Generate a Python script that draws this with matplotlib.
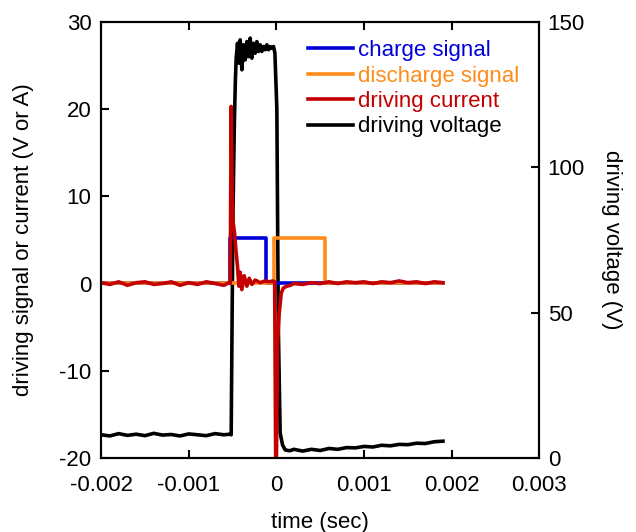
import matplotlib.pyplot as plt

plt.rcParams['font.family'] = ['Liberation Sans', 'DejaVu Sans']
plt.rcParams['font.size'] = 16
plt.rcParams['axes.unicode_minus'] = False

# charge / discharge signals (V)
t_charge = [-0.002, -0.000527, -0.000527, -0.00012, -0.00012, 0.0019]
v_charge = [0.1, 0.1, 5.2, 5.2, 0.1, 0.1]
t_dis = [-0.002, -0.000022, -0.000022, 0.00055, 0.00055, 0.0019]
v_dis = [0.05, 0.05, 5.2, 5.2, 0.05, 0.05]

# driving current (A)
t_cur = [-0.002, -0.0019, -0.0018, -0.0017, -0.0016, -0.0015, -0.0014, -0.0013,
         -0.0012, -0.0011, -0.001, -0.0009, -0.0008, -0.0007, -0.0006, -0.00054,
         -0.000527, -0.000516, -0.000505, -0.000497, -0.000478, -0.000459, -0.000444,
         -0.000428, -0.000413, -0.000394, -0.000368, -0.000337, -0.00031, -0.00028,
         -0.000242, -0.000185, -0.00013, -0.00008, -0.00004, -0.00002, -0.000005,
         0.000013, 0.000032, 0.000055, 0.00008, 0.00012, 0.00016, 0.0002, 0.0003,
         0.0004, 0.0005, 0.0006, 0.0007, 0.0008, 0.0009, 0.001, 0.0011, 0.0012,
         0.0013, 0.0014, 0.0015, 0.0016, 0.0017, 0.0018, 0.0019]
v_cur = [0.1, -0.1, 0.2, -0.2, 0.1, 0.2, -0.1, 0.0,
         0.2, -0.2, 0.1, -0.1, 0.2, 0.0, -0.2, 0.1,
         0.0, 20.3, 10.4, 7.3, 5.8, 3.5, 2.0,
         -0.3, 1.3, -0.7, 0.9, -0.3, 0.6, -0.1,
         0.4, 0.1, 0.3, 0.2, 0.3, 0.2, -26.0,
         -6.8, -3.4, -1.1, -0.5, -0.3, -0.2, 0.0, -0.1,
         0.1, 0.0, 0.2, 0.0, 0.2, 0.1, 0.2, 0.0, 0.2,
         0.1, 0.3, 0.1, 0.2, 0.0, 0.2, 0.1]

# driving voltage (V, right axis)
t_volt = [-0.002, -0.0019, -0.0018, -0.0017, -0.0016, -0.0015, -0.0014, -0.0013,
          -0.0012, -0.0011, -0.001, -0.0009, -0.0008, -0.0007, -0.0006, -0.00053,
          -0.000516, -0.000505, -0.000495, -0.00048, -0.000468, -0.000459, -0.000444,
          -0.000428, -0.000413, -0.000394, -0.000375, -0.000356, -0.000337, -0.000318,
          -0.000299, -0.00028, -0.000261, -0.000242, -0.000223, -0.000204, -0.000185,
          -0.000166, -0.000147, -0.000128, -0.000109, -0.00009, -0.000071, -0.000052,
          -0.000033, -0.000017, 0.000005, 0.000022, 0.000035, 0.000043, 0.00007,
          0.0001, 0.00015, 0.0002, 0.0003, 0.0004, 0.0005, 0.0006, 0.0007, 0.0008,
          0.0009, 0.001, 0.0011, 0.0012, 0.0013, 0.0014, 0.0015, 0.0016, 0.0017,
          0.0018, 0.0019]
v_volt = [8.0, 7.6, 8.4, 7.8, 8.2, 7.7, 8.5, 7.9,
          8.1, 7.6, 8.3, 8.0, 7.7, 8.4, 8.0, 8.2,
          8.0, 50.0, 85.0, 115.0, 130.0, 137.5, 142.6,
          135.8, 143.8, 133.5, 142.1, 136.9, 143.2, 138.0,
          144.4, 137.5, 142.6, 139.2, 143.2, 139.8, 142.1,
          139.8, 141.5, 140.4, 142.1, 140.4, 141.5, 140.9,
          141.5, 139.2, 120.0, 45.0, 22.0, 8.6, 4.5,
          2.8, 2.5, 3.0, 2.4, 3.0, 2.6, 3.3, 3.0, 3.6,
          3.5, 4.0, 3.8, 4.4, 4.2, 4.7, 4.6, 5.1, 5.0,
          5.6, 5.8]

fig = plt.figure(figsize=(6.36, 5.32), dpi=100)
ax = fig.add_axes([0.159, 0.139, 0.689, 0.82])
ax2 = ax.twinx()

l1, = ax.plot(t_charge, v_charge, color='#0000dd', lw=2.6)
l2, = ax.plot(t_dis, v_dis, color='#ff8c1a', lw=2.6)
l3, = ax.plot(t_cur, v_cur, color='#c40000', lw=2.6)
l4, = ax2.plot(t_volt, v_volt, color='black', lw=2.6)

ax.set_xlim(-0.002, 0.003)
ax.set_ylim(-20, 30)
ax2.set_ylim(0, 150)
ax.set_xticks([-0.002, -0.001, 0, 0.001, 0.002, 0.003])
ax.set_xticklabels(['-0.002', '-0.001', '0', '0.001', '0.002', '0.003'])
ax.set_yticks([-20, -10, 0, 10, 20, 30])
ax2.set_yticks([0, 50, 100, 150])

ax.tick_params(direction='in', length=6, width=1.5, top=True)
ax.tick_params(axis='x', pad=12)
ax.tick_params(axis='y', pad=7)
ax2.tick_params(direction='in', length=6, width=1.5, pad=6)
for a in (ax, ax2):
    for s in a.spines.values():
        s.set_linewidth(1.5)

ax.set_xlabel('time (sec)', labelpad=12)
ax.set_ylabel('driving signal or current (V or A)', labelpad=18)
ax2.set_ylabel('driving voltage (V)', rotation=270, labelpad=27)

leg = ax.legend([l1, l2, l3, l4],
                ['charge signal', 'discharge signal', 'driving current', 'driving voltage'],
                loc='upper left', bbox_to_anchor=(0.473, 0.958), frameon=False,
                borderaxespad=0, borderpad=0, handlelength=2.0, handletextpad=0.25,
                labelspacing=0.2)
for txt, c in zip(leg.get_texts(), ['#0000dd', '#ff8c1a', '#c40000', 'black']):
    txt.set_color(c)
ax.set_zorder(ax2.get_zorder() + 1)
ax.patch.set_visible(False)

fig.savefig('out.png', dpi=100)
